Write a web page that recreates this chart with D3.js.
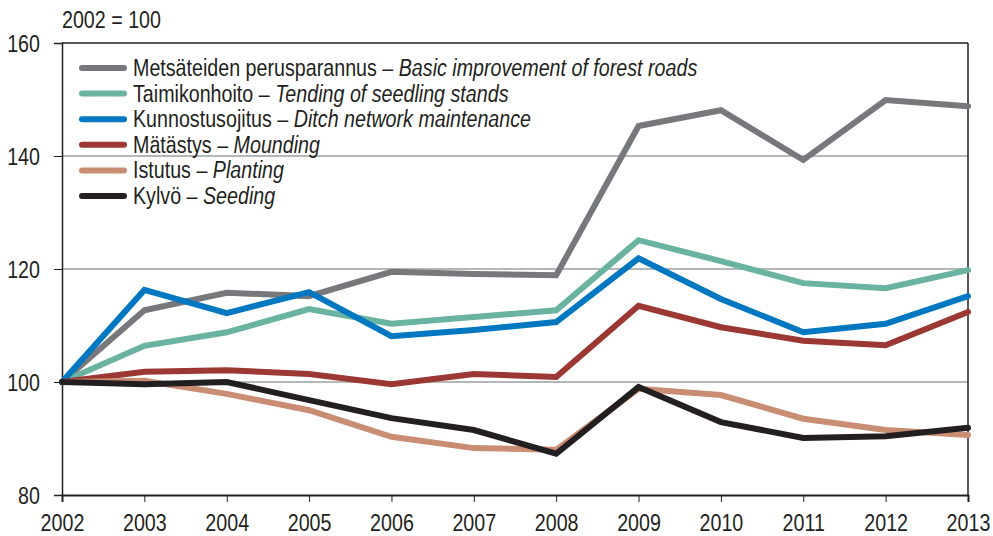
<!DOCTYPE html>
<html>
<head>
<meta charset="utf-8">
<script src="https://cdn.jsdelivr.net/npm/d3@7"></script>
<style>
  body { margin: 0; background: #fff; }
  svg text { font-family: "Liberation Sans", Arial, sans-serif; fill: #231f20; }
</style>
</head>
<body>
<svg id="chart" width="993" height="536"></svg>
<script>
// years on the x axis
let years = [2002, 2003, 2004, 2005, 2006, 2007, 2008, 2009, 2010, 2011, 2012, 2013];
let yTicks = [80, 100, 120, 140, 160];

// index series, 2002 = 100
let roads    = [100, 112.7, 115.8, 115.2, 119.5, 119.1, 118.9, 145.3, 148.1, 139.3, 149.9, 148.8];
let tending  = [100, 106.4, 108.8, 112.9, 110.3, 111.5, 112.7, 125.1, 121.4, 117.5, 116.6, 119.8];
let ditch    = [100, 116.3, 112.2, 115.9, 108.1, 109.2, 110.6, 121.9, 114.7, 108.8, 110.3, 115.2];
let mounding = [100, 101.8, 102.1, 101.4, 99.6, 101.4, 100.9, 113.5, 109.7, 107.3, 106.5, 112.4];
let planting = [100, 100.2, 97.9, 95.0, 90.3, 88.3, 88.0, 98.8, 97.7, 93.5, 91.5, 90.6];
let seeding  = [100, 99.6, 100.0, 96.8, 93.6, 91.5, 87.3, 99.1, 92.9, 90.1, 90.4, 91.9];

let finNames = ["Metsäteiden perusparannus", "Taimikonhoito", "Kunnostusojitus", "Mätästys", "Istutus", "Kylvö"];
let engNames = ["Basic improvement of forest roads", "Tending of seedling stands", "Ditch network maintenance", "Mounding", "Planting", "Seeding"];
let colors = ["#77787c", "#69b3a0", "#0077c1", "#9b3833", "#c98d74", "#231f20"];

let series = [roads, tending, ditch, mounding, planting, seeding].map(function(vals, i) {
    return { fin: finNames[i], eng: engNames[i], color: colors[i], values: vals };
});

let svg = d3.select("#chart");
let margin = { top: 43, right: 25, bottom: 41, left: 62 };
let width = 993 - margin.left - margin.right,
    height = 536 - margin.top - margin.bottom;

let x = d3.scaleLinear().domain([2002, 2013]).range([0, width]);
let y = d3.scaleLinear().domain([80, 160]).range([height, 0]);

// the original uses a narrow face; squeeze text horizontally around its anchor
function narrow(sel) {
    sel.each(function() {
        let t = d3.select(this);
        let ax = +(t.attr("x") || 0);
        t.attr("transform", "translate(" + ax + ",0) scale(0.82,1) translate(" + (-ax) + ",0)");
    });
}

let g = svg.append("g").attr("transform", "translate(" + margin.left + "," + margin.top + ")");

// gridlines
g.selectAll(".grid").data([100, 120, 140]).enter().append("line")
    .attr("x1", 0).attr("x2", width)
    .attr("y1", d => y(d)).attr("y2", d => y(d))
    .attr("stroke", "#6d6e71").attr("stroke-width", 1);

// frame: top and right
g.append("line").attr("x1", 0).attr("x2", width).attr("y1", 0).attr("y2", 0)
    .attr("stroke", "#231f20").attr("stroke-width", 1.5);
g.append("line").attr("x1", width).attr("x2", width).attr("y1", 0).attr("y2", height)
    .attr("stroke", "#231f20").attr("stroke-width", 1.5);

// y axis
let yAxis = g.append("g")
    .call(d3.axisLeft(y).tickValues(yTicks).tickSize(8).tickPadding(14).tickFormat(d3.format("d")));
yAxis.select(".domain").attr("stroke", "#231f20").attr("stroke-width", 1.5);
yAxis.selectAll(".tick line").attr("stroke", "#231f20");
yAxis.selectAll(".tick text").style("font-size", "24px").attr("dy", "0.35em").call(narrow);

// x axis
let xAxis = g.append("g").attr("transform", "translate(0," + height + ")")
    .call(d3.axisBottom(x).tickValues(years).tickSize(7).tickPadding(12).tickFormat(d3.format("d")));
xAxis.select(".domain").attr("stroke", "#231f20").attr("stroke-width", 2);
xAxis.selectAll(".tick line").attr("stroke", "#231f20");
xAxis.selectAll(".tick text").style("font-size", "24px").call(narrow);

// series lines
let line = d3.line()
    .x((d, i) => x(years[i]))
    .y(d => y(d));

g.selectAll(".series").data(series).enter().append("path")
    .attr("class", "series")
    .attr("d", d => line(d.values))
    .attr("fill", "none")
    .attr("stroke", d => d.color)
    .attr("stroke-width", 6)
    .attr("stroke-linejoin", "miter")
    .attr("stroke-linecap", "round");

// unit label
svg.append("text").attr("x", 62).attr("y", 28).style("font-size", "24px").text("2002 = 100").call(narrow);

// legend
let legend = g.selectAll(".legend").data(series).enter().append("g")
    .attr("transform", (d, i) => "translate(20," + (25 + i * 25.6) + ")");
legend.append("line")
    .attr("x1", 0).attr("x2", 42).attr("y1", 0).attr("y2", 0)
    .attr("stroke", d => d.color).attr("stroke-width", 6).attr("stroke-linecap", "round");
let lt = legend.append("text").attr("x", 51).attr("y", 8).style("font-size", "24px");
lt.append("tspan").text(d => d.fin + " – ");
lt.append("tspan").style("font-style", "italic").text(d => d.eng);
lt.call(narrow);
</script>
</body>
</html>
